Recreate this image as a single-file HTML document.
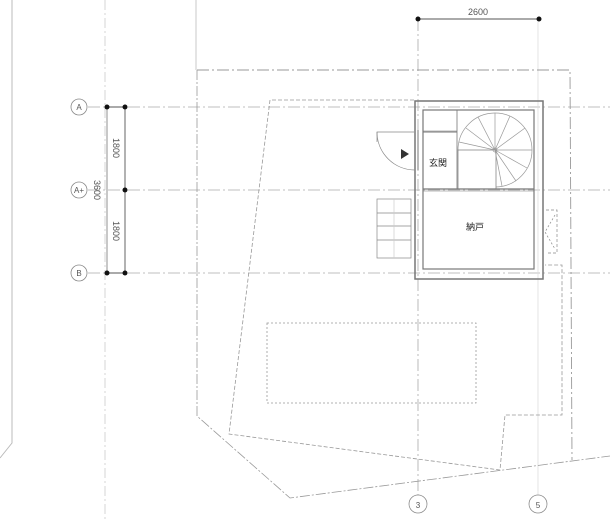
<!DOCTYPE html>
<html><head><meta charset="utf-8"><style>
html,body{margin:0;padding:0;background:#fff;}
svg{display:block;}
text{font-family:"Liberation Sans","Noto Sans CJK JP",sans-serif;}
</style></head><body>
<svg width="610" height="520" viewBox="0 0 610 520" xmlns="http://www.w3.org/2000/svg">
<g fill="none" stroke-linecap="butt">
<polyline points="12,0 12,443 0,458" stroke="#bbb" stroke-width="1"/>
<line x1="105" y1="0" x2="105" y2="520" stroke="#ccc" stroke-width="0.8" stroke-dasharray="10,3,2,3"/>
<line x1="196" y1="0" x2="196" y2="70" stroke="#bbb" stroke-width="0.8"/>
<g stroke="#aaa" stroke-width="0.8" stroke-dasharray="12,3,2,3">
<line x1="88" y1="107" x2="610" y2="107"/>
<line x1="88" y1="190" x2="610" y2="190"/>
<line x1="88" y1="273" x2="610" y2="273"/>
<line x1="418" y1="19" x2="418" y2="496"/>
</g>
<line x1="538" y1="19" x2="538" y2="496" stroke="#ddd" stroke-width="0.8"/>
<polyline points="197,70 570,70 572,460" stroke="#999" stroke-width="0.9" stroke-dasharray="12,3,2,3"/>
<polyline points="197,70 197,416 290,498 610,456" stroke="#999" stroke-width="0.8" stroke-dasharray="10,2,2,2"/>
<polyline points="414,100 270,100 229,434 500,470 505,415 562,415 562,265 545,265" stroke="#999" stroke-width="0.8" stroke-dasharray="4,2"/>
<rect x="267" y="323" width="209" height="80" stroke="#999" stroke-width="0.8" stroke-dasharray="2,2"/>
<line x1="418" y1="19" x2="539" y2="19" stroke="#555" stroke-width="0.9"/>
<line x1="107" y1="107" x2="107" y2="273" stroke="#777" stroke-width="0.8"/>
<line x1="125" y1="107" x2="125" y2="273" stroke="#555" stroke-width="0.9"/>
<line x1="107" y1="107" x2="125" y2="107" stroke="#555" stroke-width="0.9"/>
<line x1="107" y1="273" x2="125" y2="273" stroke="#555" stroke-width="0.9"/>
</g>
<g fill="#111">
<circle cx="418" cy="19" r="2.5"/><circle cx="539" cy="19" r="2.5"/>
<circle cx="107" cy="107" r="2.5"/><circle cx="125" cy="107" r="2.5"/>
<circle cx="125" cy="190" r="2.5"/>
<circle cx="107" cy="273" r="2.5"/><circle cx="125" cy="273" r="2.5"/>
</g>
<g font-size="9" fill="#555">
<text x="478" y="15" text-anchor="middle">2600</text>
<text transform="translate(113,148) rotate(90)" text-anchor="middle">1800</text>
<text transform="translate(113,231) rotate(90)" text-anchor="middle">1800</text>
<text transform="translate(94,190) rotate(90)" text-anchor="middle">3600</text>
</g>
<g stroke="#888" stroke-width="0.8" fill="#fff">
<circle cx="79" cy="107" r="8"/><circle cx="79" cy="190" r="8"/><circle cx="79" cy="273" r="8"/>
<circle cx="418" cy="504" r="9"/><circle cx="538" cy="504" r="9"/>
</g>
<g font-size="8" fill="#555" text-anchor="middle">
<text x="79" y="110">A</text><text x="79" y="193">A+</text><text x="79" y="276">B</text>
<text x="418" y="508">3</text><text x="538" y="508">5</text>
</g>
<g fill="none" stroke="#777">
<rect x="415" y="101" width="128" height="178" stroke-width="1.5"/>
<rect x="423" y="110" width="111" height="159" stroke-width="1.2"/>
<line x1="423" y1="189" x2="534" y2="189" stroke-width="1.2"/>
<line x1="423" y1="191" x2="534" y2="191" stroke-width="0.6"/>
<line x1="423" y1="132" x2="457" y2="132" stroke-width="1"/>
<line x1="423" y1="131" x2="457" y2="131" stroke-width="0.6"/>
<line x1="457" y1="110" x2="457" y2="189" stroke-width="0.8"/>
<line x1="418" y1="130" x2="418" y2="170" stroke="#bbb" stroke-width="2"/>
<line x1="534" y1="210" x2="534" y2="253" stroke-width="0.8"/>
</g>
<g fill="none" stroke="#999" stroke-width="0.7">
<path d="M458,150 A37,37 0 1 1 496,187"/>
<rect x="458" y="150" width="38" height="39" stroke="#777"/>
<line x1="495" y1="150" x2="532" y2="150"/><line x1="495" y1="150" x2="525" y2="128"/>
<line x1="495" y1="150" x2="510" y2="116"/><line x1="495" y1="150" x2="495" y2="113"/>
<line x1="495" y1="150" x2="478" y2="117"/><line x1="495" y1="150" x2="466" y2="128"/>
<line x1="495" y1="150" x2="459" y2="142"/><line x1="495" y1="150" x2="527" y2="168"/>
<line x1="495" y1="150" x2="516" y2="181"/><line x1="495" y1="150" x2="502" y2="186"/>
<circle cx="495" cy="150" r="2"/>
</g>
<g fill="none" stroke="#888" stroke-width="0.7">
<polyline points="414,132 377,132 377,142"/>
<path d="M377,132 A38,38 0 0 0 415,170"/>
<rect x="377" y="199" width="34" height="59"/>
<line x1="377" y1="213" x2="411" y2="213"/><line x1="377" y1="226" x2="411" y2="226"/>
<line x1="377" y1="240" x2="411" y2="240"/><line x1="394" y1="199" x2="394" y2="258" stroke="#ccc"/>
<polyline points="546,210 557,210 557,253 546,253" stroke-dasharray="3,2"/>
<polyline points="555,215 545,232 555,249" stroke-dasharray="2,2"/>
</g>
<polygon points="401,149 409,154 401,159" fill="#333"/>
<g font-size="9" fill="#222">
<text x="429" y="166">玄関</text>
<text x="466" y="230">納戸</text>
</g>
</svg>
</body></html>
